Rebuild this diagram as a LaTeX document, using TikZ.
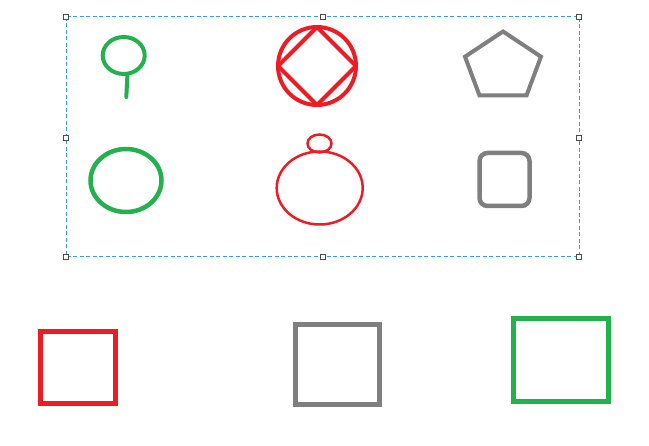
\documentclass[tikz,border=0pt]{standalone}
\definecolor{pred}{RGB}{237,28,36}
\definecolor{pgreen}{RGB}{34,177,76}
\definecolor{pgray}{RGB}{127,127,127}
\definecolor{selblue}{RGB}{51,153,255}
\begin{document}
\begin{tikzpicture}[x=1pt,y=-1pt,
  sel/.style={draw=selblue, line width=1pt, dash pattern=on 4pt off 2.5pt},
  handle/.style={draw=black!70, fill=white, line width=1pt, minimum size=5pt, inner sep=0pt, rectangle},
  thickline/.style={line width=4pt},
  thinline/.style={line width=2.5pt},
  boxline/.style={line width=5pt}]
\useasboundingbox (0,0) rectangle (649,446);
% selection frame
\draw[sel] (66,17) rectangle (579,257);
\foreach \p/\n in {{(66,17)}/h1,{(323,17)}/h2,{(579,17)}/h3,{(66,138)}/h4,{(579,138)}/h5,{(66,257)}/h6,{(323,257)}/h7,{(579,257)}/h8}
  \node[handle] (\n) at \p {};
% green pin
\draw[pgreen, thickline] (123.7,55.5) ellipse [x radius=21, y radius=18.5];
\draw[pgreen, thickline, line cap=round] (127.5,74) -- (126.3,97);
% red circle with diamond
\draw[pred, thickline] (317,66) circle [radius=39];
\draw[pred, thickline, line join=round] (317,27) -- (278,66) -- (317,105) -- (356,66) -- cycle;
% gray pentagon
\draw[pgray, thickline] (503,31.5) -- (541,56.7) -- (526.5,95.5) -- (479.5,95.5) -- (465,56.7) -- cycle;
% green ellipse
\draw[pgreen, line width=4.5pt] (126,180.5) ellipse [x radius=35.5, y radius=31.5];
% red double ellipse
\draw[pred, thinline] (319.5,143.5) ellipse [x radius=12, y radius=9];
\draw[pred, thinline] (319.7,188) ellipse [x radius=43, y radius=36.5];
% gray rounded square
\draw[pgray, line width=4.5pt, rounded corners=8pt] (479.5,153) rectangle (529.5,206);
% bottom boxes
\draw[pred, boxline] (40,331.5) rectangle (115,403.5);
\draw[pgray, boxline] (295,324.5) rectangle (379,404.5);
\draw[pgreen, boxline] (513.5,319) rectangle (608,401.5);
\end{tikzpicture}
\end{document}
